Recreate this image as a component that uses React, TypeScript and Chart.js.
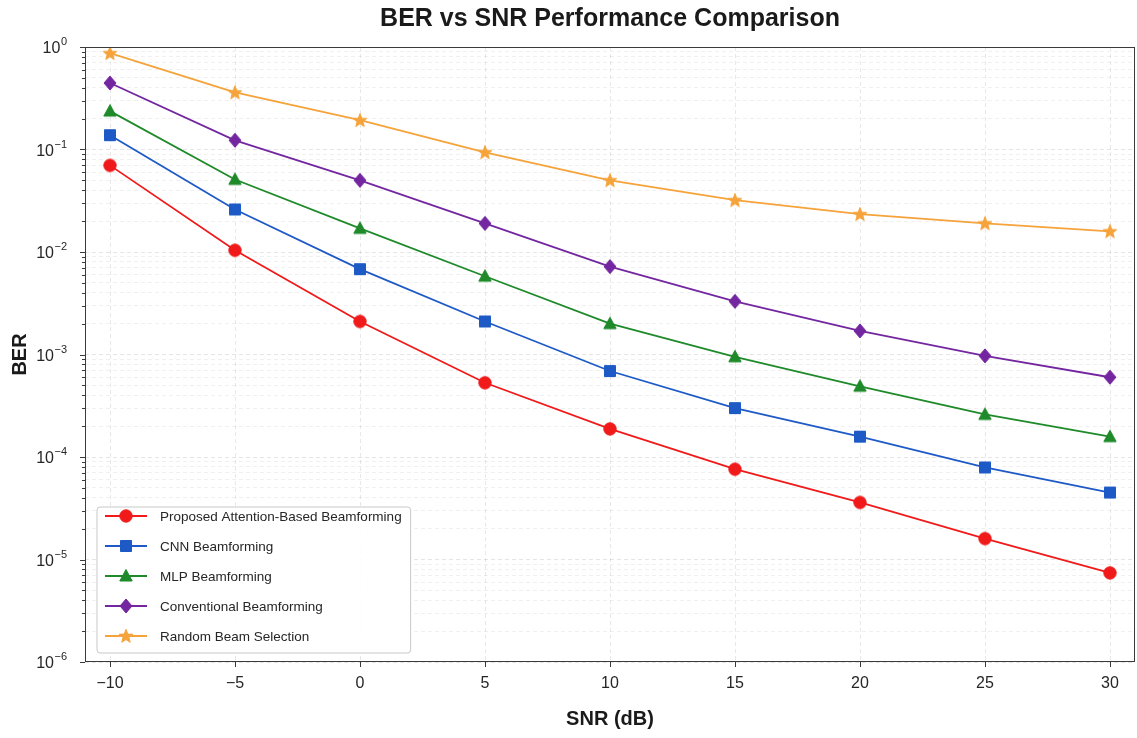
import React, { useEffect, useRef } from 'react';
import { Chart, registerables } from 'chart.js';

Chart.register(...registerables);

// ---------------- data ----------------
const snrDb = [-10, -5, 0, 5, 10, 15, 20, 25, 30];
const proposedBer = [0.07, 0.0104, 0.0021, 0.00053, 0.000188, 7.6e-5, 3.6e-5, 1.6e-5, 7.4e-6];
const cnnBer = [0.138, 0.026, 0.0068, 0.0021, 0.00069, 0.0003, 0.000158, 7.9e-5, 4.5e-5];
const mlpBer = [0.237, 0.051, 0.017, 0.0058, 0.002, 0.00095, 0.00049, 0.00026, 0.000158];
const conventionalBer = [0.445, 0.123, 0.05, 0.019, 0.0072, 0.0033, 0.0017, 0.00097, 0.0006];
const randomBer = [0.87, 0.36, 0.193, 0.094, 0.05, 0.032, 0.0234, 0.019, 0.0159];

const seriesLabels = [
  'Proposed Attention-Based Beamforming',
  'CNN Beamforming',
  'MLP Beamforming',
  'Conventional Beamforming',
  'Random Beam Selection',
];
const seriesColors = ['#f01a1a', '#1e5ac6', '#1f8a2a', '#7326a0', '#f5a33a'];
const seriesMarkers = ['circle', 'square', 'triangle', 'diamond', 'star'];
const xTickValues = [-10, -5, 0, 5, 10, 15, 20, 25, 30];
const yDecades = [-6, -5, -4, -3, -2, -1, 0];

const chartTitle = 'BER vs SNR Performance Comparison';
const xTitle = 'SNR (dB)';
const yTitle = 'BER';

const FONT = '"Liberation Sans", Arial, "DejaVu Sans", sans-serif';

function isMajor(v: number) {
  const l = Math.log10(v);
  return Math.abs(l - Math.round(l)) < 1e-9;
}

function expText(v: number) {
  return String(Math.round(Math.log10(v))).replace('-', '\u2212');
}

function makeMarker(kind: string, color: string): HTMLCanvasElement {
  const size = 18;
  const c = document.createElement('canvas');
  c.width = size;
  c.height = size;
  const ctx = c.getContext('2d')!;
  const cx = size / 2;
  const cy = size / 2;
  ctx.fillStyle = color;
  ctx.strokeStyle = color;
  ctx.lineWidth = 1;
  ctx.beginPath();
  if (kind === 'circle') {
    ctx.arc(cx, cy, 6.2, 0, Math.PI * 2);
  } else if (kind === 'square') {
    ctx.rect(cx - 5.5, cy - 5.5, 11, 11);
  } else if (kind === 'triangle') {
    ctx.moveTo(cx, cy - 6.5);
    ctx.lineTo(cx + 6.2, cy + 5);
    ctx.lineTo(cx - 6.2, cy + 5);
    ctx.closePath();
  } else if (kind === 'diamond') {
    ctx.moveTo(cx, cy - 7);
    ctx.lineTo(cx + 6, cy);
    ctx.lineTo(cx, cy + 7);
    ctx.lineTo(cx - 6, cy);
    ctx.closePath();
  } else {
    const R = 7.2;
    const r = R * 0.42;
    for (let i = 0; i < 10; i++) {
      const a = -Math.PI / 2 + (i * Math.PI) / 5;
      const rad = i % 2 === 0 ? R : r;
      const px = cx + rad * Math.cos(a);
      const py = cy + 0.5 + rad * Math.sin(a);
      if (i === 0) ctx.moveTo(px, py);
      else ctx.lineTo(px, py);
    }
    ctx.closePath();
  }
  ctx.fill();
  ctx.stroke();
  return c;
}

const decorPlugin = {
  id: 'decor',
  afterDraw(chart: any) {
    const { ctx, chartArea } = chart;
    const { left, right, top, bottom } = chartArea;
    ctx.save();
    // axes frame
    ctx.strokeStyle = '#3a3a3a';
    ctx.lineWidth = 1;
    ctx.strokeRect(Math.round(left) + 0.5, Math.round(top) + 0.5, Math.round(right - left) - 1, Math.round(bottom - top) - 1);

    // tick marks
    const ys = chart.scales.y;
    ctx.beginPath();
    ys.ticks.forEach((t: any) => {
      const py = Math.round(ys.getPixelForValue(t.value)) + 0.5;
      const len = isMajor(t.value) ? 5 : 3;
      ctx.moveTo(left - len, py);
      ctx.lineTo(left, py);
    });
    const xs = chart.scales.x;
    xs.ticks.forEach((t: any) => {
      const px = Math.round(xs.getPixelForValue(t.value)) + 0.5;
      ctx.moveTo(px, bottom);
      ctx.lineTo(px, bottom + 5);
    });
    ctx.strokeStyle = '#3a3a3a';
    ctx.stroke();

    // y tick labels: 10 with superscript exponent
    ctx.fillStyle = '#262626';
    ctx.textBaseline = 'middle';
    ctx.textAlign = 'left';
    ys.ticks.forEach((t: any) => {
      if (!isMajor(t.value)) return;
      const py = ys.getPixelForValue(t.value);
      const e = expText(t.value);
      ctx.font = `11px ${FONT}`;
      const w2 = ctx.measureText(e).width;
      ctx.font = `16px ${FONT}`;
      const w1 = ctx.measureText('10').width;
      const R = 67;
      ctx.fillText('10', R - w2 - w1 - 0.5, py + 2);
      ctx.font = `11px ${FONT}`;
      ctx.fillText(e, R - w2, py - 5);
    });

    // title
    ctx.fillStyle = '#1a1a1a';
    ctx.font = `bold 25px ${FONT}`;
    ctx.textAlign = 'center';
    ctx.textBaseline = 'middle';
    ctx.fillText(chartTitle, (left + right) / 2, 19);

    // legend
    const legendFont = `13.5px ${FONT}`;
    ctx.font = legendFont;
    let maxW = 0;
    chart.data.datasets.forEach((ds: any) => {
      maxW = Math.max(maxW, ctx.measureText(ds.label).width);
    });
    const lx = 97;
    const ly = 507;
    const lw = 160 + maxW + 9 - lx;
    const lh = 146;
    ctx.beginPath();
    const rr = 3;
    ctx.moveTo(lx + rr, ly);
    ctx.arcTo(lx + lw, ly, lx + lw, ly + lh, rr);
    ctx.arcTo(lx + lw, ly + lh, lx, ly + lh, rr);
    ctx.arcTo(lx, ly + lh, lx, ly, rr);
    ctx.arcTo(lx, ly, lx + lw, ly, rr);
    ctx.closePath();
    ctx.fillStyle = 'rgba(255,255,255,0.9)';
    ctx.fill();
    ctx.strokeStyle = '#c8c8c8';
    ctx.lineWidth = 1;
    ctx.stroke();

    chart.data.datasets.forEach((ds: any, i: number) => {
      const rowY = 516 + i * 30;
      ctx.beginPath();
      ctx.moveTo(105, rowY);
      ctx.lineTo(147, rowY);
      ctx.strokeStyle = ds.borderColor;
      ctx.lineWidth = 1.8;
      ctx.stroke();
      const img = ds.pointStyle as HTMLCanvasElement;
      ctx.drawImage(img, 126 - img.width / 2, rowY - img.height / 2);
      ctx.fillStyle = '#262626';
      ctx.font = legendFont;
      ctx.textAlign = 'left';
      ctx.textBaseline = 'middle';
      ctx.fillText(ds.label, 160, rowY + 1);
    });
    ctx.restore();
  },
};

export default function App() {
  const canvasRef = useRef<HTMLCanvasElement | null>(null);

  useEffect(() => {
    const canvas = canvasRef.current;
    if (!canvas) return;
    const seriesValues = [proposedBer, cnnBer, mlpBer, conventionalBer, randomBer];
    const datasets = seriesValues.map((vals, i) => ({
      label: seriesLabels[i],
      data: snrDb.map((x, j) => ({ x, y: vals[j] })),
      borderColor: seriesColors[i],
      backgroundColor: seriesColors[i],
      borderWidth: 1.8,
      pointStyle: makeMarker(seriesMarkers[i], seriesColors[i]),
      pointRadius: 7,
      pointHoverRadius: 7,
      tension: 0,
      fill: false,
    }));

    const chart = new Chart(canvas, {
      type: 'line',
      data: { datasets },
      plugins: [decorPlugin],
      options: {
        animation: false,
        responsive: false,
        devicePixelRatio: 1,
        events: [],
        layout: { autoPadding: false, padding: { top: 47, right: 2, left: 0, bottom: 0 } },
        plugins: {
          legend: { display: false },
          title: { display: false },
          tooltip: { enabled: false },
        },
        scales: {
          x: {
            type: 'linear',
            min: -11,
            max: 31,
            afterFit: (s: any) => {
              s.height = 76;
              s.paddingLeft = 0;
              s.paddingRight = 0;
            },
            afterBuildTicks: (s: any) => {
              s.ticks = xTickValues.map((v) => ({ value: v }));
            },
            ticks: {
              autoSkip: false,
              maxRotation: 0,
              padding: 12,
              color: '#262626',
              font: { family: FONT, size: 16 },
              callback: (v: any) => String(v).replace('-', '\u2212'),
            },
            grid: {
              drawTicks: false,
              color: 'rgba(0,0,0,0.09)',
              lineWidth: 1,
            },
            border: { display: false, dash: [4, 3] },
            title: {
              display: true,
              text: xTitle,
              color: '#1a1a1a',
              font: { family: FONT, size: 20, weight: 'bold' },
              padding: { top: 0, bottom: 7 },
            },
          },
          y: {
            type: 'logarithmic',
            min: 1e-6,
            max: 1,
            afterFit: (s: any) => {
              s.width = 85;
              s.paddingTop = 0;
              s.paddingBottom = 0;
            },
            afterBuildTicks: (s: any) => {
              const t: { value: number }[] = [];
              yDecades.forEach((d) => {
                const maxM = d === 0 ? 1 : 9;
                for (let m = 1; m <= maxM; m++) t.push({ value: m * Math.pow(10, d) });
              });
              s.ticks = t;
            },
            ticks: {
              display: false,
              autoSkip: false,
              callback: (v: any) => {
                const n = Number(v);
                return isMajor(n) ? '10^' + expText(n) : '';
              },
            },
            grid: {
              drawTicks: false,
              color: (c: any) =>
                c.tick && isMajor(c.tick.value) ? 'rgba(0,0,0,0.10)' : 'rgba(0,0,0,0.06)',
              lineWidth: 1,
            },
            border: { display: false, dash: [4, 3] },
            title: {
              display: true,
              text: yTitle,
              color: '#1a1a1a',
              font: { family: FONT, size: 20, weight: 'bold' },
              padding: { top: 8, bottom: 0 },
            },
          },
        },
      },
    });
    return () => chart.destroy();
  }, []);

  return (
    <div style={{ position: 'fixed', left: 0, top: 0, width: 1137, height: 738, background: '#fff' }}>
      <canvas ref={canvasRef} width={1137} height={738} style={{ display: 'block', width: 1137, height: 738 }} />
    </div>
  );
}
